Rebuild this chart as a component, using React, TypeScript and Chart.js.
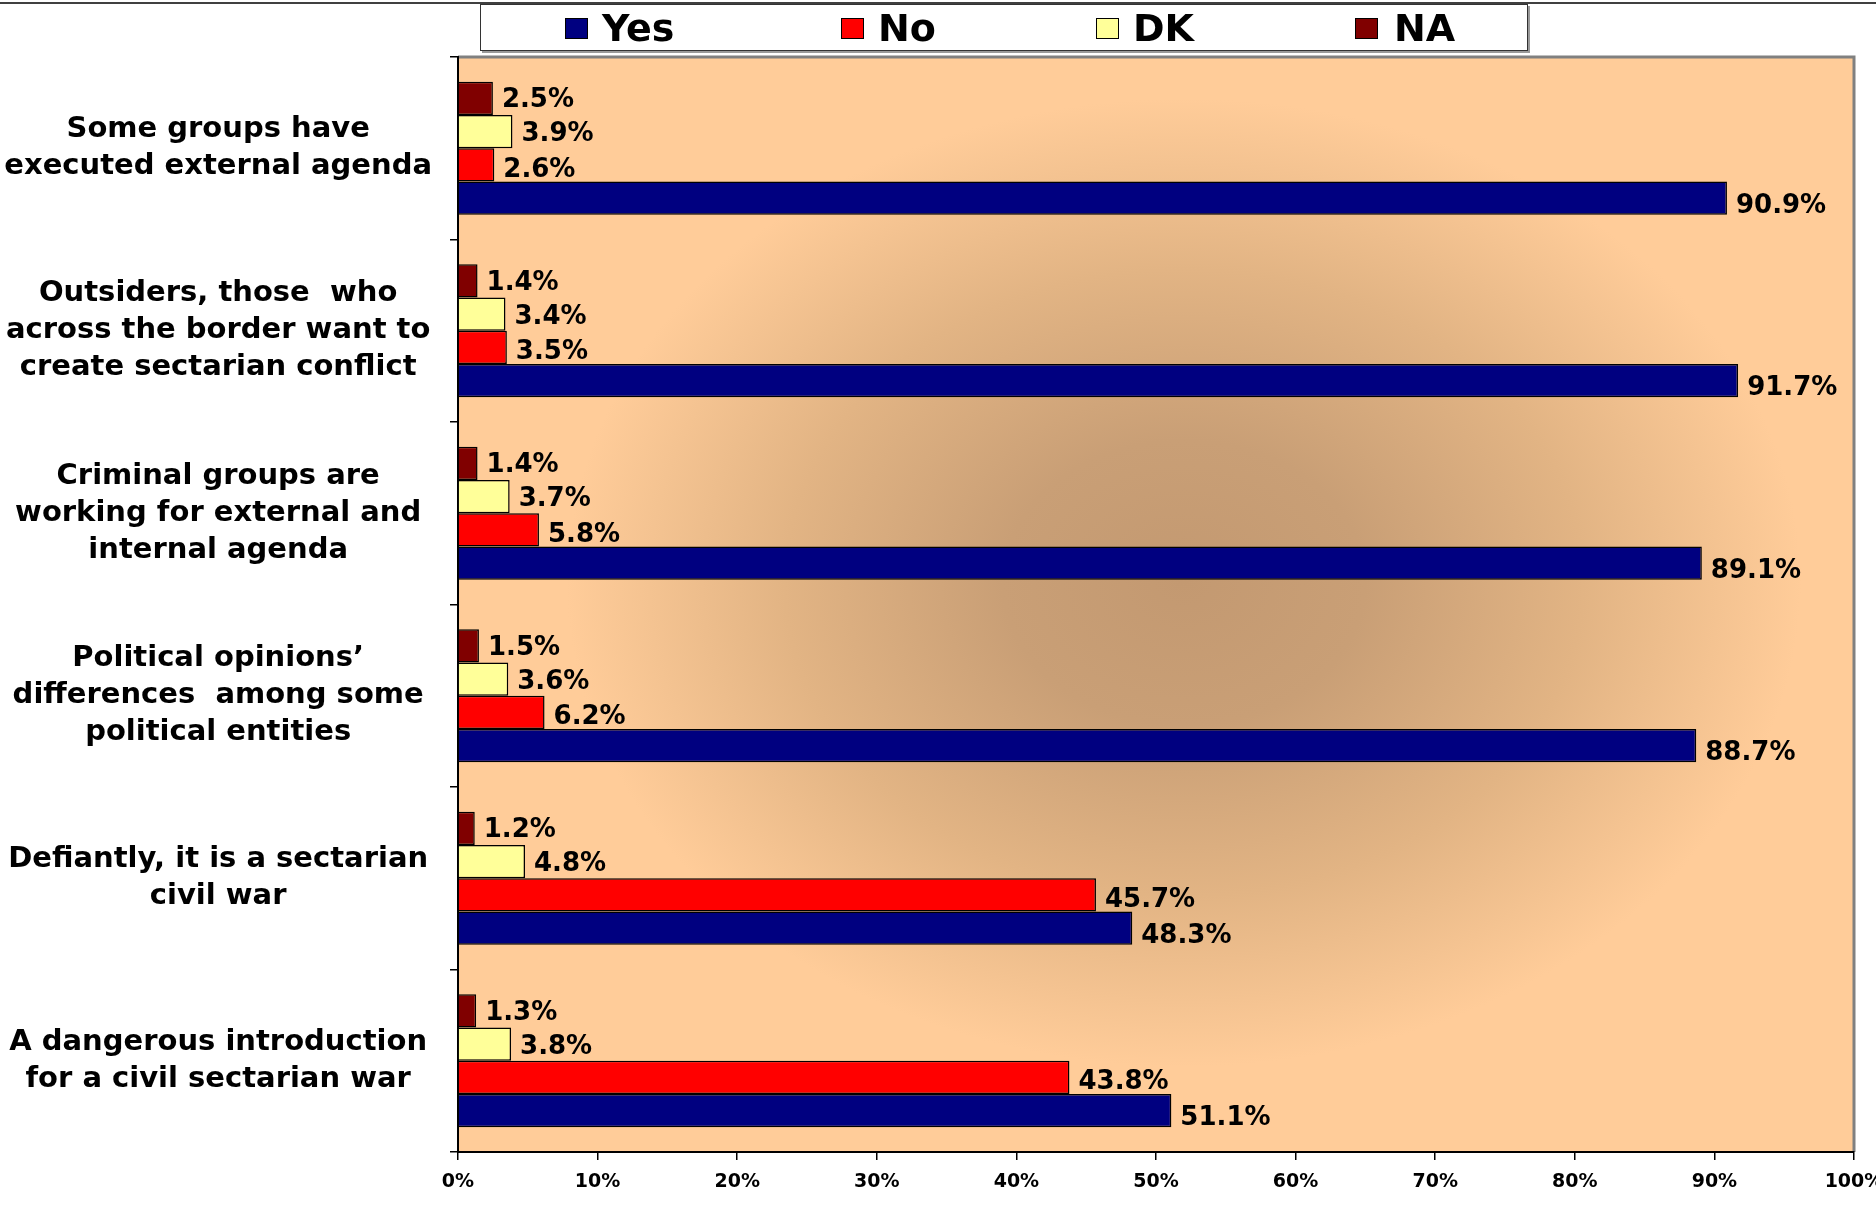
import React, { useEffect, useRef } from "react";
import { Chart, registerables } from "chart.js";

Chart.register(...registerables);

const categories: string[][] = [
  ["Some groups have", "executed external agenda"],
  ["Outsiders, those  who", "across the border want to", "create sectarian conflict"],
  ["Criminal groups are", "working for external and", "internal agenda"],
  ["Political opinions\u2019", "differences  among some", "political entities"],
  ["Defiantly, it is a sectarian", "civil war"],
  ["A dangerous introduction", "for a civil sectarian war"],
];

const yesValues = [90.9, 91.7, 89.1, 88.7, 48.3, 51.1];
const noValues = [2.6, 3.5, 5.8, 6.2, 45.7, 43.8];
const dkValues = [3.9, 3.4, 3.7, 3.6, 4.8, 3.8];
const naValues = [2.5, 1.4, 1.4, 1.5, 1.2, 1.3];

const seriesNames = ["Yes", "No", "DK", "NA"];
const seriesColors = ["#000080", "#FF0000", "#FFFF99", "#800000"];

const FONT = "'DejaVu Sans', Verdana, sans-serif";

// vertical nudge of value labels per drawn dataset (NA, DK, No, Yes)
const labelNudge = [0, 1, 3, 6];

const backgroundPlugin = {
  id: "plotBackground",
  beforeDraw(chart: any) {
    const { ctx, chartArea } = chart;
    const { left, top, right, bottom } = chartArea;
    ctx.save();
    ctx.fillStyle = "#FFCC99";
    ctx.fillRect(left, top, right - left, bottom - top);
    const cx = left + (right - left) * 0.52;
    const cy = top + (bottom - top) * 0.48;
    const hw = (right - left) * 0.52;
    const hh = (bottom - top) * 0.52;
    ctx.beginPath();
    ctx.rect(left, top, right - left, bottom - top);
    ctx.clip();
    ctx.translate(cx, cy);
    ctx.scale(hw, hh);
    const g = ctx.createRadialGradient(0, 0, 0, 0, 0, 1);
    g.addColorStop(0, "rgba(195,153,113,1)");
    g.addColorStop(0.25, "rgba(201,159,118,1)");
    g.addColorStop(0.55, "rgba(226,180,132,1)");
    g.addColorStop(0.85, "rgba(255,204,153,1)");
    g.addColorStop(1, "rgba(255,204,153,1)");
    ctx.fillStyle = g;
    ctx.fillRect(-2, -2, 4, 4);
    ctx.restore();

    ctx.save();
    ctx.strokeStyle = "#808080";
    ctx.lineWidth = 3;
    ctx.beginPath();
    ctx.moveTo(left, top);
    ctx.lineTo(right, top);
    ctx.lineTo(right, bottom);
    ctx.stroke();
    ctx.restore();
  },
  afterDraw(chart: any) {
    const { ctx, width } = chart;
    ctx.save();
    ctx.strokeStyle = "#404040";
    ctx.lineWidth = 2;
    ctx.beginPath();
    ctx.moveTo(0, 3);
    ctx.lineTo(width, 3);
    ctx.stroke();
    ctx.restore();
  },
};

const labelPlugin = {
  id: "valueLabels",
  afterDatasetsDraw(chart: any) {
    const { ctx } = chart;
    ctx.save();
    ctx.font = `bold 26px ${FONT}`;
    ctx.fillStyle = "#000";
    ctx.textAlign = "left";
    ctx.textBaseline = "middle";
    chart.data.datasets.forEach((ds: any, i: number) => {
      const meta = chart.getDatasetMeta(i);
      meta.data.forEach((el: any, j: number) => {
        const v = ds.data[j] as number;
        ctx.fillText(v.toFixed(1) + "%", el.x + 9, el.y + 2 + labelNudge[i]);
      });
    });
    ctx.restore();
  },
};

export default function App() {
  const canvasRef = useRef<HTMLCanvasElement | null>(null);

  useEffect(() => {
    if (!canvasRef.current) return;
    const ordered = [
      { name: "NA", data: naValues, color: seriesColors[3] },
      { name: "DK", data: dkValues, color: seriesColors[2] },
      { name: "No", data: noValues, color: seriesColors[1] },
      { name: "Yes", data: yesValues, color: seriesColors[0] },
    ];
    const chart = new Chart(canvasRef.current, {
      type: "bar",
      data: {
        labels: categories,
        datasets: ordered.map((s) => ({
          label: s.name,
          data: s.data,
          backgroundColor: s.color,
          borderColor: "#000",
          borderWidth: 1.5,
          categoryPercentage: 0.73,
          barPercentage: 1,
        })),
      },
      options: {
        indexAxis: "y",
        responsive: false,
        maintainAspectRatio: false,
        animation: false,
        layout: { padding: { top: 57, right: 22, left: 0, bottom: 0 } },
        plugins: {
          legend: { display: false },
          tooltip: { enabled: false },
        },
        scales: {
          x: {
            min: 0,
            max: 100,
            ticks: {
              stepSize: 10,
              callback: (v: any) => v + "%",
              font: { family: FONT, size: 19, weight: "bold" },
              color: "#000",
              padding: 11,
              maxRotation: 0,
            },
            grid: { drawOnChartArea: false, drawTicks: true, tickLength: 8, color: "#000", lineWidth: 1.5 },
            border: { color: "#000", width: 2 },
            afterFit: (s: any) => {
              s.height = 55;
              s.paddingLeft = 0;
              s.paddingRight = 0;
            },
          },
          y: {
            ticks: {
              font: { family: FONT, size: 29, weight: "bold", lineHeight: 1.276 },
              color: "#000",
              padding: 18,
              crossAlign: "center",
              autoSkip: false,
            },
            grid: { offset: true, drawOnChartArea: false, drawTicks: true, tickLength: 8, color: "#000", lineWidth: 1.5 },
            border: { color: "#000", width: 2 },
            afterFit: (s: any) => {
              s.width = 458;
              s.paddingTop = 0;
              s.paddingBottom = 0;
            },
          },
        },
      } as any,
      plugins: [backgroundPlugin, labelPlugin],
    });
    return () => chart.destroy();
  }, []);

  const legendPositions = [
    { sq: 565, tx: 602 },
    { sq: 841, tx: 878 },
    { sq: 1096, tx: 1133 },
    { sq: 1355, tx: 1394 },
  ];

  return (
    <div style={{ position: "fixed", left: 0, top: 0, width: 1876, height: 1207, background: "#fff", overflow: "hidden" }}>
      <canvas ref={canvasRef} width={1876} height={1207} style={{ position: "absolute", left: 0, top: 0, width: 1876, height: 1207 }} />
      <div
        style={{
          position: "absolute",
          left: 480,
          top: 4,
          width: 1048,
          height: 47,
          border: "1.5px solid #333",
          boxShadow: "2px 2px 0 #999",
          background: "#fff",
          boxSizing: "border-box",
        }}
      />
      {seriesNames.map((name, i) => (
        <React.Fragment key={name}>
          <div
            style={{
              position: "absolute",
              left: legendPositions[i].sq,
              top: 18,
              width: 21,
              height: 19,
              background: seriesColors[i],
              border: "1.5px solid #000",
            }}
          />
          <div
            style={{
              position: "absolute",
              left: legendPositions[i].tx,
              top: 6,
              height: 44,
              lineHeight: "44px",
              fontFamily: FONT,
              fontWeight: "bold",
              fontSize: 38,
              color: "#000",
              whiteSpace: "nowrap",
            }}
          >
            {name}
          </div>
        </React.Fragment>
      ))}
    </div>
  );
}
